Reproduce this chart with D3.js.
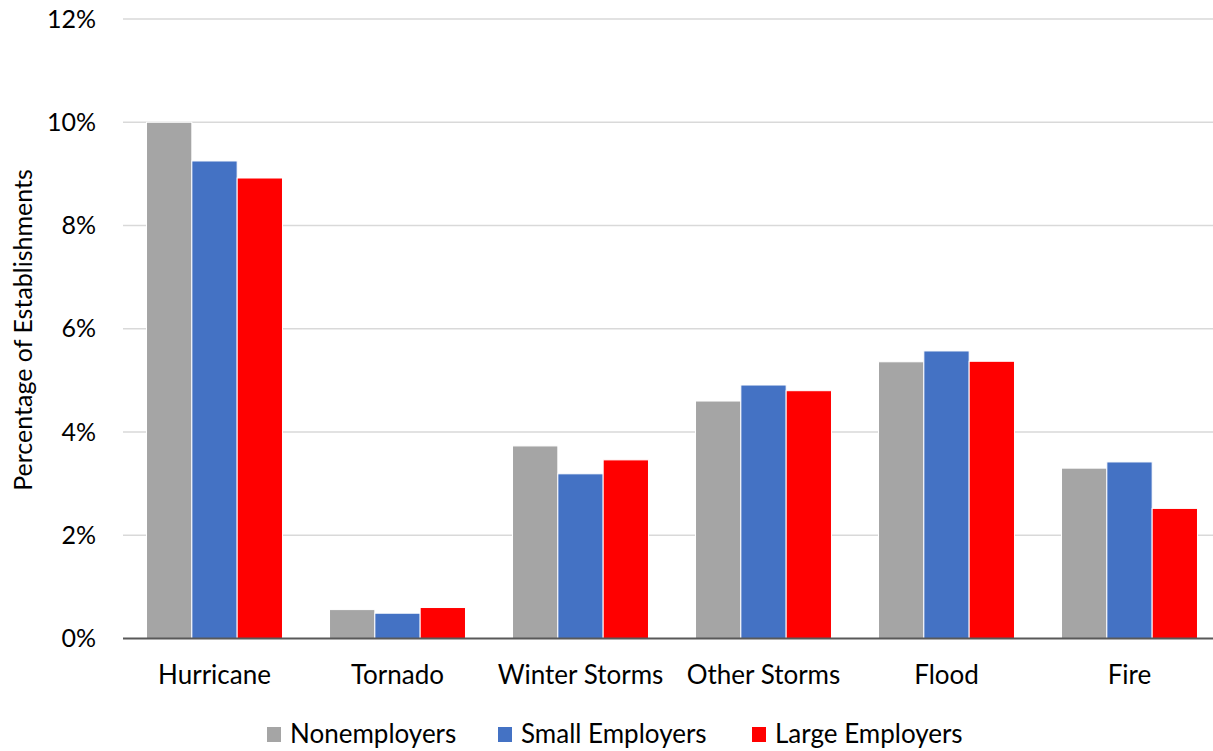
<!DOCTYPE html>
<html>
<head>
<meta charset="utf-8">
<script src="https://cdn.jsdelivr.net/npm/d3@7"></script>
<style>
  html, body { margin: 0; padding: 0; background: #fff; }
  svg { display: block; font-family: Lato, "Noto Sans", sans-serif; }
</style>
</head>
<body>
<svg id="chart" width="1213" height="751"></svg>
<script>
// Share of establishments affected, by hazard type and business size (%)
const categories = ["Hurricane", "Tornado", "Winter Storms", "Other Storms", "Flood", "Fire"];
const seriesNames = ["Nonemployers", "Small Employers", "Large Employers"];
const nonemployers = [10.0, 0.56, 3.73, 4.60, 5.36, 3.30];
const smallEmployers = [9.25, 0.49, 3.19, 4.91, 5.57, 3.42];
const largeEmployers = [8.92, 0.60, 3.46, 4.80, 5.37, 2.52];
const yTicks = [0, 2, 4, 6, 8, 10, 12];
const colors = ["#a5a5a5", "#4472c4", "#ff0000"];

const seriesValues = [nonemployers, smallEmployers, largeEmployers];
const rows = categories.map((c, i) => ({
  category: c,
  values: seriesNames.map((s, j) => ({ series: s, value: seriesValues[j][i], idx: j }))
}));

const FONT = "Lato, 'Noto Sans', sans-serif";
const svg = d3.select("#chart");
const margin = { left: 123, right: -8, top: 19, bottom: 113 };
const W = 1213, H = 751;
const x0 = d3.scaleBand().domain(categories).range([margin.left, W - margin.right]).paddingInner(0.257).paddingOuter(0.1285);
const x1 = d3.scaleBand().domain(seriesNames).range([0, x0.bandwidth()]);
const y = d3.scaleLinear().domain([0, 12]).range([H - margin.bottom + 0.5, margin.top]);

// horizontal gridlines
svg.append("g")
  .selectAll("line")
  .data(yTicks.filter(t => t > 0))
  .join("line")
  .attr("x1", margin.left).attr("x2", W)
  .attr("y1", d => y(d)).attr("y2", d => y(d))
  .attr("stroke", "#d9d9d9").attr("stroke-width", 1.3);

// y tick labels
const yAxis = d3.axisLeft(y).tickValues(yTicks).tickFormat(d => d + "%").tickSize(0).tickPadding(27);
const gy = svg.append("g").attr("transform", `translate(${margin.left},0)`).call(yAxis);
gy.select(".domain").remove();
gy.selectAll("text").attr("font-size", 25).attr("fill", "#000").attr("font-family", FONT);

// bars
const groups = svg.append("g").selectAll("g")
  .data(rows).join("g")
  .attr("transform", d => `translate(${x0(d.category)},0)`);
groups.selectAll("rect")
  .data(d => d.values).join("rect")
  .attr("x", d => x1(d.series))
  .attr("width", x1.bandwidth())
  .attr("y", d => y(d.value))
  .attr("height", d => y(0) - y(d.value))
  .attr("fill", d => colors[d.idx])
  .attr("stroke", "#fff").attr("stroke-width", 1);

// baseline
svg.append("line")
  .attr("x1", margin.left).attr("x2", W)
  .attr("y1", y(0)).attr("y2", y(0))
  .attr("stroke", "#595959").attr("stroke-width", 2);

// x category labels
const xAxis = d3.axisBottom(x0).tickSize(0).tickPadding(27);
const gx = svg.append("g").attr("transform", `translate(0,${y(0)})`).call(xAxis);
gx.select(".domain").remove();
gx.selectAll("text").attr("font-size", 26).attr("fill", "#000").attr("font-family", FONT);

// y axis title
svg.append("text")
  .attr("transform", `translate(32,330) rotate(-90)`)
  .attr("text-anchor", "middle")
  .attr("font-size", 25)
  .attr("fill", "#000")
  .text("Percentage of Establishments");

// legend
const legendX = [267, 498, 752];
const legend = svg.append("g").selectAll("g")
  .data(seriesNames).join("g")
  .attr("transform", (d, i) => `translate(${legendX[i]},727)`);
legend.append("rect").attr("width", 14).attr("height", 15).attr("fill", (d, i) => colors[i]);
legend.append("text")
  .attr("x", 23).attr("y", 16)
  .attr("font-size", 26).attr("fill", "#000")
  .text(d => d);
</script>
</body>
</html>
